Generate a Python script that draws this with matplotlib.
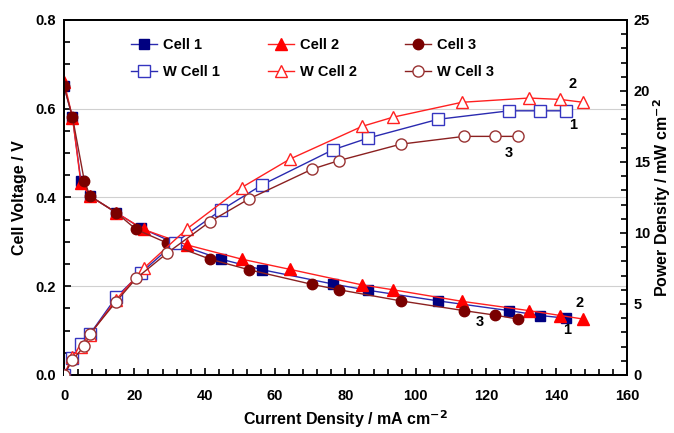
import matplotlib
matplotlib.use("Agg")
import matplotlib.pyplot as plt
from matplotlib.ticker import MultipleLocator, FormatStrFormatter

plt.rcParams['font.family'] = ['Liberation Sans', 'DejaVu Sans']
plt.rcParams['font.weight'] = 'bold'

# ---- data ----
i_cell1 = [0, 2.4, 4.8, 7.4, 14.8, 21.9, 31.5, 44.6, 56.4, 76.4, 86.3, 106.3, 126.5, 135.4, 142.6]
v_cell1 = [0.65, 0.581, 0.437, 0.403, 0.366, 0.331, 0.297, 0.261, 0.237, 0.205, 0.191, 0.167, 0.145, 0.134, 0.128]
p_cell1 = [0, 1.18, 2.18, 2.89, 5.47, 7.2, 9.3, 11.6, 13.4, 15.85, 16.67, 18.0, 18.6, 18.6, 18.6]

i_cell2 = [0, 2.4, 4.8, 7.4, 14.8, 22.6, 35.0, 50.5, 64.2, 84.7, 93.5, 113.1, 132.2, 141.1, 147.6]
v_cell2 = [0.661, 0.58, 0.432, 0.403, 0.366, 0.328, 0.293, 0.261, 0.238, 0.203, 0.192, 0.166, 0.145, 0.134, 0.126]
p_cell2 = [0, 1.3, 2.0, 2.85, 5.3, 7.5, 10.3, 13.2, 15.2, 17.5, 18.15, 19.2, 19.5, 19.4, 19.2]

i_cell3 = [0, 2.4, 5.8, 7.4, 14.8, 20.5, 29.4, 41.5, 52.6, 70.6, 78.2, 95.7, 113.7, 122.4, 129.0]
v_cell3 = [0.65, 0.581, 0.436, 0.403, 0.366, 0.328, 0.297, 0.261, 0.237, 0.204, 0.192, 0.167, 0.145, 0.135, 0.126]
p_cell3 = [0, 1.06, 2.04, 2.9, 5.16, 6.8, 8.6, 10.8, 12.4, 14.5, 15.1, 16.25, 16.8, 16.8, 16.8]

labels_v = ["Cell 1", "Cell 2", "Cell 3"]
labels_p = ["W Cell 1", "W Cell 2", "W Cell 3"]
annot_text = ["2", "1", "3", "2", "1", "3"]
annot_x = [144.6, 144.6, 126.4, 146.6, 142.9, 118.2]
annot_y = [0.656, 0.563, 0.500, 0.162, 0.101, 0.119]

# ---- styles ----
col_line = ["#2a2ab0", "#ff2020", "#8b2020"]
col_fill = ["#000080", "#ff0000", "#7a0000"]
col_open = ["#3535c0", "#ff2020", "#993333"]
mk = ["s", "^", "o"]

fig = plt.figure(figsize=(6.74, 4.33), dpi=100)
ax = fig.add_axes([0.095, 0.134, 0.835, 0.820])
ax2 = ax.twinx()

ax.set_xlim(0, 160)
ax.set_ylim(0, 0.8)
ax2.set_ylim(0, 25)

for yv in [0.2, 0.4, 0.6]:
    ax.axhline(yv, color="#d0d0d0", lw=0.8, zorder=0)

I = [i_cell1, i_cell2, i_cell3]
V = [v_cell1, v_cell2, v_cell3]
P = [p_cell1, p_cell2, p_cell3]
handles = []
for k in range(3):
    h1, = ax.plot(I[k], V[k], color=col_line[k], lw=1.0, marker=mk[k], ms=7.5 if k != 1 else 8,
                  mfc=col_fill[k], mec=col_fill[k], label=labels_v[k], zorder=3 + k)
    h2, = ax2.plot(I[k], P[k], color=col_line[k], lw=1.0, marker=mk[k], ms=8 if k != 1 else 8.5,
                   mfc="white", mec=col_open[k], mew=1.0, label=labels_p[k], zorder=3 + k)
    handles.append((h1, h2))

for t, x, y in zip(annot_text, annot_x, annot_y):
    ax.text(x, y, t, fontsize=10.5, fontweight="bold", ha="center", va="center")

# ticks
ax.xaxis.set_major_locator(MultipleLocator(20))
ax.xaxis.set_minor_locator(MultipleLocator(4))
ax.yaxis.set_major_locator(MultipleLocator(0.2))
ax.yaxis.set_minor_locator(MultipleLocator(0.05))
ax.yaxis.set_major_formatter(FormatStrFormatter("%.1f"))
ax2.yaxis.set_major_locator(MultipleLocator(5))
ax2.yaxis.set_minor_locator(MultipleLocator(1))

for a in (ax, ax2):
    a.tick_params(which="both", direction="in", labelsize=10.5, width=1.2)
    a.tick_params(which="major", length=5)
    a.tick_params(which="minor", length=4)
    for s in a.spines.values():
        s.set_linewidth(1.3)
ax.tick_params(axis="x", which="both", top=False, pad=10)
ax.tick_params(axis="y", which="both", right=False, pad=6)
ax2.tick_params(axis="y", which="both", pad=5)
for lab in ax.get_xticklabels() + ax.get_yticklabels() + ax2.get_yticklabels():
    lab.set_fontweight("bold")

ax.set_xlabel("Current Density / mA cm$^{\\mathbf{-2}}$", fontsize=11.5, fontweight="bold", labelpad=4)
ax.set_ylabel("Cell Voltage / V", fontsize=11.5, fontweight="bold", labelpad=6)
ylab2 = ax2.set_ylabel("Power Density / mW cm$^{\\mathbf{-2}}$", fontsize=11.5, fontweight="bold",
                       rotation=90)
ax2.yaxis.set_label_coords(1.062, 0.5)
ylab2.set_verticalalignment("center")
ylab2.set_horizontalalignment("center")

order = [handles[0][0], handles[0][1], handles[1][0], handles[1][1], handles[2][0], handles[2][1]]
leg = ax2.legend(handles=order, labels=[h.get_label() for h in order], ncol=3,
                 loc="upper left", bbox_to_anchor=(0.095, 0.985), frameon=False,
                 prop={"weight": "bold", "size": 10.5}, columnspacing=3.3,
                 handlelength=1.8, labelspacing=0.85, handletextpad=0.4)

fig.savefig("out.png", dpi=100)
